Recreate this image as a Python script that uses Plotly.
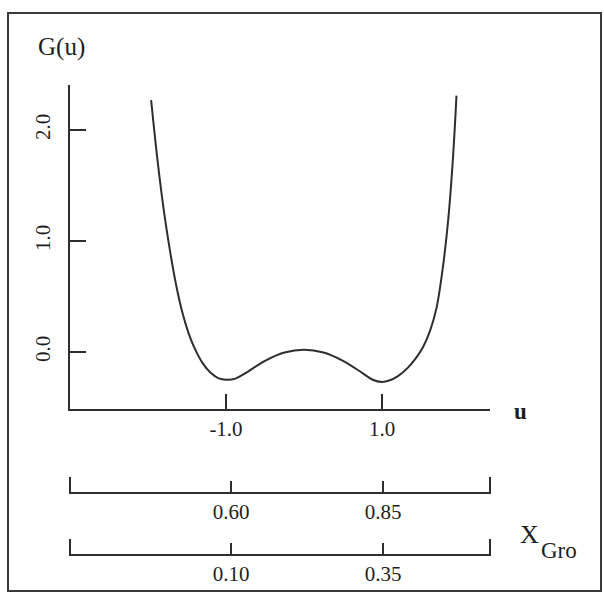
import plotly.graph_objects as go

# ---- data ----
u_vals = [-1.96, -1.88, -1.80, -1.72, -1.64, -1.56, -1.48, -1.40, -1.30, -1.20, -1.10, -1.00,
          -0.88, -0.75, -0.50, -0.25, 0.00, 0.25, 0.50, 0.75, 0.88, 1.00, 1.10, 1.20, 1.32,
          1.43, 1.53, 1.62, 1.70, 1.78, 1.85, 1.91, 1.955]
g_vals = [2.27, 1.74, 1.29, 0.92, 0.606, 0.358, 0.17, 0.03, -0.10, -0.185, -0.235, -0.25,
          -0.24, -0.19, -0.08, -0.005, 0.02, -0.005, -0.08, -0.19, -0.25, -0.27, -0.255, -0.22, -0.15,
          -0.06, 0.05, 0.20, 0.40, 0.76, 1.20, 1.75, 2.31]

u_ticks = [-1.0, 1.0]
u_ticktext = ["-1.0", "1.0"]
g_ticks = [0.0, 1.0, 2.0]
g_ticktext = ["0.0", "1.0", "2.0"]

scale1_ticks = [0.60, 0.85]
scale1_text = ["0.60", "0.85"]
scale2_ticks = [0.10, 0.35]
scale2_text = ["0.10", "0.35"]

W, H = 604, 596
FONT = "Liberation Serif"
INK = "#1e1e1e"
LINE = "#2e2e2e"

def px(x):
    return x / W

def py(y):
    return 1 - y / H

# pixel geometry of the axes
X_LEFT, X_RIGHT = 70, 490
U0_PX, U_PX = 304, 78          # u=0 position, px per unit u
Y_TOP, Y_BOT = 85, 409
G0_PX, G_PX = 352, 111         # G=0 position, px per unit G
S1_Y, S2_Y = 493, 555          # pixel rows of the two composition scales

u_range = [(X_LEFT - U0_PX) / U_PX, (X_RIGHT - U0_PX) / U_PX]
g_range = [(G0_PX - Y_BOT) / G_PX, (G0_PX - Y_TOP) / G_PX]

# secondary scales: first tick at px 231, second at px 383
def scale_range(t0, t1, p0=231, p1=383):
    k = (t1 - t0) / (p1 - p0)
    return [t0 - (p0 - X_LEFT) * k, t1 + (X_RIGHT - p1) * k]

r1 = scale_range(*scale1_ticks)
r2 = scale_range(*scale2_ticks)

fig = go.Figure()
fig.add_trace(go.Scatter(x=u_vals, y=g_vals, mode="lines",
                         line=dict(color=LINE, width=2, shape="spline", smoothing=1.0),
                         showlegend=False, hoverinfo="skip"))
fig.add_trace(go.Scatter(x=scale1_ticks, y=[None, None], xaxis="x2", yaxis="y",
                         mode="lines", showlegend=False, hoverinfo="skip"))
fig.add_trace(go.Scatter(x=scale2_ticks, y=[None, None], xaxis="x3", yaxis="y",
                         mode="lines", showlegend=False, hoverinfo="skip"))

tickfont = dict(family=FONT, size=21, color=INK)
common = dict(showgrid=False, zeroline=False, showline=True, linecolor=LINE, linewidth=2,
              ticks="inside", tickcolor=LINE, tickwidth=2, tickfont=tickfont)

def bottom_scale(rng, vals, text, pos):
    return dict(common, overlaying="x", anchor="free", position=pos, range=rng,
                tickmode="array", tickvals=vals, ticktext=text, ticklen=11,
                ticklabelstandoff=0)

# taller end ticks of the two composition scales
end_ticks = []
for ax, yrow in (("x2", S1_Y), ("x3", S2_Y)):
    for xd in (0, 1):
        end_ticks.append(dict(type="line", xref=f"{ax} domain", yref="paper",
                              x0=xd, x1=xd, y0=py(yrow + 1), y1=py(yrow - 16),
                              line=dict(color=LINE, width=2)))

fig.update_layout(
    width=W, height=H, margin=dict(l=0, r=0, t=0, b=0),
    paper_bgcolor="white", plot_bgcolor="white",
    xaxis=dict(common, domain=[px(X_LEFT), px(X_RIGHT)], range=u_range, anchor="y",
               tickmode="array", tickvals=u_ticks, ticktext=u_ticktext, ticklen=15,
               ticklabelstandoff=0),
    yaxis=dict(common, domain=[py(Y_BOT), py(Y_TOP)], range=g_range, anchor="x",
               tickmode="array", tickvals=g_ticks, ticktext=g_ticktext, ticklen=16,
               tickangle=-90, ticklabelstandoff=10),
    xaxis2=bottom_scale(r1, scale1_ticks, scale1_text, py(S1_Y)),
    xaxis3=bottom_scale(r2, scale2_ticks, scale2_text, py(S2_Y)),
    shapes=[dict(type="rect", xref="paper", yref="paper",
                 x0=px(8), x1=px(601), y0=py(591), y1=py(13),
                 line=dict(color="#3a3a3a", width=2), fillcolor="rgba(0,0,0,0)")] + end_ticks,
    annotations=[
        dict(text="G(u)", x=px(61), y=py(47), xref="paper", yref="paper",
             xanchor="center", yanchor="middle",
             showarrow=False, font=dict(family=FONT, size=25, color=INK)),
        dict(text="<b>u</b>", x=px(520), y=py(411), xref="paper", yref="paper",
             xanchor="center", yanchor="middle",
             showarrow=False, font=dict(family=FONT, size=23, color=INK)),
        dict(text="X", x=px(529), y=py(534), xref="paper", yref="paper",
             xanchor="center", yanchor="middle",
             showarrow=False, font=dict(family=FONT, size=26, color=INK)),
        dict(text="Gro", x=px(559), y=py(550), xref="paper", yref="paper",
             xanchor="center", yanchor="middle",
             showarrow=False, font=dict(family=FONT, size=23, color=INK)),
    ],
)

fig.write_html("out.html")
